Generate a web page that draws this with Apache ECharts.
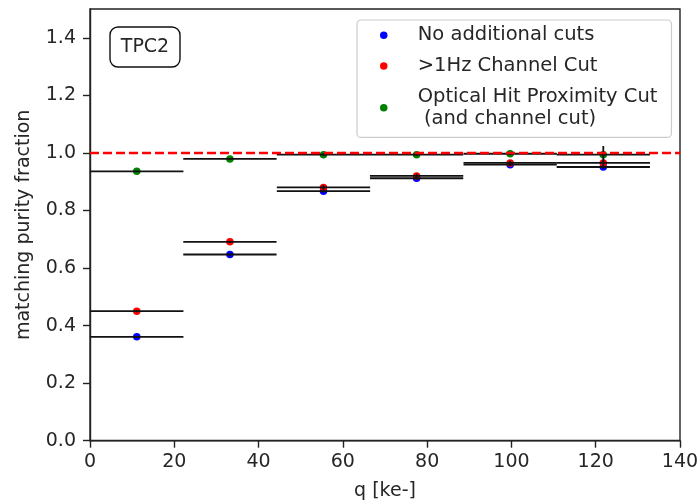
<!DOCTYPE html>
<html>
<head>
<meta charset="utf-8">
<script src="https://cdn.jsdelivr.net/npm/echarts@6/dist/echarts.min.js"></script>
<style>html,body{margin:0;padding:0;background:#fff;}#c{width:698px;height:500px;}</style>
</head>
<body>
<div id="c"></div>
<script>
const binCenters = [11.1, 33.2, 55.4, 77.5, 99.7, 121.8];
const binHalfWidth = [11.07, 11.07, 11.07, 11.07, 11.07, 11.07];
const noCuts = [0.361, 0.647, 0.867, 0.912, 0.959, 0.951];
const noCutsErr = [0.003, 0.003, 0.005, 0.005, 0.004, 0.006];
const channelCut = [0.450, 0.691, 0.880, 0.920, 0.965, 0.965];
const channelCutErr = [0.004, 0.004, 0.008, 0.008, 0.008, 0.010];
const opticalCut = [0.936, 0.979, 0.994, 0.994, 0.997, 0.994];
const opticalCutErr = [0.002, 0.002, 0.004, 0.004, 0.004, 0.030];
const xTicks = [0, 20, 40, 60, 80, 100, 120, 140];
const yTicks = [0, 0.2, 0.4, 0.6, 0.8, 1.0, 1.2, 1.4];
const names = ['No additional cuts', '>1Hz Channel Cut', 'Optical Hit Proximity Cut\n (and channel cut)'];
const colors = ['#0000ff', '#ff0000', '#008000'];
const font = 'DejaVu Sans';
const fs = 19;
const txt = '#262626';

const chart = echarts.init(document.getElementById('c'), null, {renderer: 'canvas'});

function pts(vals, errs) {
  return binCenters.map((x, i) => [x, vals[i], binHalfWidth[i], errs[i]]);
}
const allSets = [[noCuts, noCutsErr], [channelCut, channelCutErr], [opticalCut, opticalCutErr]];

const series = [];
allSets.forEach((s, k) => {
  series.push({
    name: names[k], type: 'scatter', data: pts(s[0], s[1]),
    symbol: 'circle', symbolSize: 7.5, itemStyle: {color: colors[k], opacity: 1},
    z: 2 + k * 0.01, silent: true, emphasis: {disabled: true}
  });
});
allSets.forEach((s, k) => {
  series.push({
    type: 'custom', data: pts(s[0], s[1]), z: 3, silent: true,
    renderItem: function (params, api) {
      const x = api.value(0), y = api.value(1), xe = api.value(2), ye = api.value(3);
      const a = api.coord([x - xe, y]), b = api.coord([x + xe, y]);
      const c = api.coord([x, y - ye]), d = api.coord([x, y + ye]);
      const st = {stroke: '#111', lineWidth: 1.8};
      return {type: 'group', children: [
        {type: 'line', shape: {x1: a[0], y1: a[1], x2: b[0], y2: b[1]}, style: st},
        {type: 'line', shape: {x1: c[0], y1: c[1], x2: d[0], y2: d[1]}, style: st}
      ]};
    }
  });
});
series.push({
  type: 'line', data: [[0, 1.0], [140, 1.0]], symbol: 'none', z: 4, silent: true,
  lineStyle: {color: '#ff0000', width: 2.5, type: [9, 4]}
});

const option = {
  animation: false,
  backgroundColor: '#fff',
  grid: {left: 90, right: 18, top: 9, bottom: 59.3, outerBoundsMode: 'none', containLabel: false,
    show: true, borderColor: '#222', borderWidth: 1.4, backgroundColor: 'transparent'},
  xAxis: {
    type: 'value', min: 0, max: 140, interval: 20,
    name: 'q [ke-]', nameLocation: 'middle', nameGap: 41,
    nameTextStyle: {fontFamily: font, fontSize: fs, color: txt},
    axisLine: {show: true, onZero: false, lineStyle: {color: '#222', width: 1.4}},
    axisTick: {show: true, inside: false, length: 7, lineStyle: {color: '#222', width: 1.4}, customValues: xTicks},
    axisLabel: {fontFamily: font, fontSize: fs, color: txt, margin: 12, customValues: xTicks},
    splitLine: {show: false}
  },
  yAxis: {
    type: 'value', min: 0, max: 1.5,
    name: 'matching purity fraction', nameLocation: 'middle', nameGap: 56,
    nameTextStyle: {fontFamily: font, fontSize: fs, color: txt},
    axisLine: {show: true, onZero: false, lineStyle: {color: '#222', width: 1.4}},
    axisTick: {show: true, inside: false, length: 7, lineStyle: {color: '#222', width: 1.4}, customValues: yTicks},
    axisLabel: {fontFamily: font, fontSize: fs, color: txt, margin: 14, customValues: yTicks,
      formatter: v => v.toFixed(1)},
    splitLine: {show: false}
  },
  legend: {
    show: true, orient: 'vertical', left: 357, top: 20,
    data: names.map((n, k) => ({name: n, icon: 'circle', itemStyle: {color: colors[k]}})),
    itemWidth: 20, itemHeight: 7.5, itemGap: 8,
    padding: [4, 14, 7, 23],
    backgroundColor: '#fff', borderColor: '#cccccc', borderWidth: 1.2, borderRadius: 4,
    textStyle: {fontFamily: font, fontSize: 19.5, color: txt, lineHeight: 22.6, padding: [0, 0, 0, 19]},
    selectedMode: false
  },
  graphic: [
    {type: 'rect', shape: {x: 110, y: 27, width: 70, height: 40, r: 8}, style: {fill: '#fff', stroke: '#111', lineWidth: 1.4}, z: 10},
    {type: 'text', x: 145, y: 47, style: {text: 'TPC2', fontFamily: font, fontSize: fs, fill: txt, align: 'center', verticalAlign: 'middle'}, z: 11}
  ],
  series: series
};
chart.setOption(option);
</script>
</body>
</html>
